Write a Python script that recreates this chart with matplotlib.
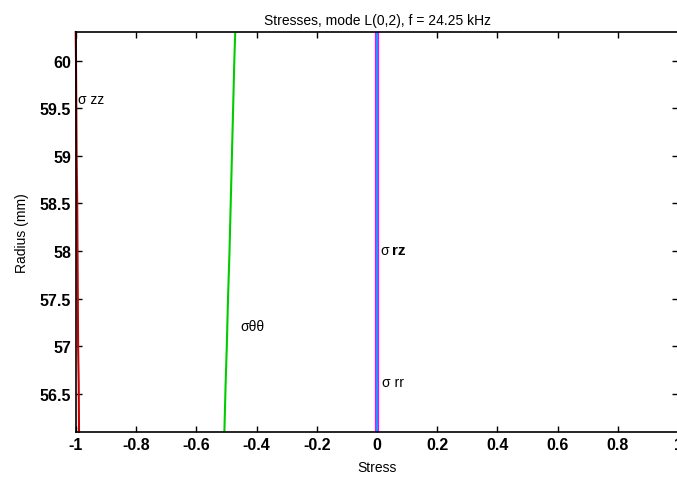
import matplotlib
matplotlib.use("Agg")
import matplotlib.pyplot as plt
import numpy as np

plt.rcParams['font.family'] = ['Liberation Sans', 'DejaVu Sans']

# Data
radius = [56.1, 56.6, 57.0, 57.5, 58.0, 58.5, 59.0, 59.5, 60.0, 60.3]
sigma_zz = [-0.990, -0.991, -0.993, -0.994, -0.995, -0.996, -0.998, -0.999, -1.000, -1.001]
sigma_tt = [-0.507, -0.503, -0.499, -0.495, -0.490, -0.486, -0.482, -0.478, -0.474, -0.471]
sigma_rz = [0.0, 0.0, 0.0, 0.0, 0.0, 0.0, 0.0, 0.0, 0.0, 0.0]
sigma_rr = [0.0, 0.0, 0.0, 0.0, 0.0, 0.0, 0.0, 0.0, 0.0, 0.0]

xticks = [-1, -0.8, -0.6, -0.4, -0.2, 0, 0.2, 0.4, 0.6, 0.8, 1]
xticklabels = ['-1', '-0.8', '-0.6', '-0.4', '-0.2', '0', '0.2', '0.4', '0.6', '0.8', '1']
yticks = [56.5, 57, 57.5, 58, 58.5, 59, 59.5, 60]
yticklabels = ['56.5', '57', '57.5', '58', '58.5', '59', '59.5', '60']

fig = plt.figure(figsize=(6.77, 4.81), dpi=100)
ax = fig.add_axes([76/677, 1-433/481, (678-76)/677, 400/481])

ax.plot(sigma_zz, radius, color='#cc0000', lw=1.5, clip_on=False)
ax.plot(sigma_tt, radius, color='#00cc00', lw=1.5)
ax.plot(sigma_rz, radius, color='#ff00ff', lw=3.0)
ax.plot(sigma_rr, radius, color='#00aaff', lw=1.3)

ax.set_xlim(-1, 1)
ax.set_ylim(56.1, 60.3)
ax.set_xticks(xticks)
ax.set_xticklabels(xticklabels)
ax.set_yticks(yticks)
ax.set_yticklabels(yticklabels)
ax.tick_params(direction='in', top=True, right=True, length=4, width=1, labelsize=11.5)
for lab in ax.get_xticklabels() + ax.get_yticklabels():
    lab.set_fontweight('bold')
for s in ax.spines.values():
    s.set_linewidth(1.2)

ax.text(-0.995, 59.6, 'σ zz', fontsize=10, va='center', ha='left')
ax.text(-0.455, 57.21, 'σθθ', fontsize=10, va='center', ha='left')
ax.text(0.01, 58.01, 'σ', fontsize=10, va='center', ha='left')
ax.text(0.05, 58.01, 'rz', fontsize=11, fontweight='bold', va='center', ha='left')
ax.text(0.015, 56.62, 'σ rr', fontsize=10, va='center', ha='left')

ax.set_title('Stresses, mode L(0,2), f = 24.25 kHz', fontsize=10, pad=6)
ax.set_xlabel('Stress', fontsize=10, labelpad=6)
ax.set_ylabel('Radius (mm)', fontsize=10, labelpad=8)

fig.savefig('out.png', dpi=100)
